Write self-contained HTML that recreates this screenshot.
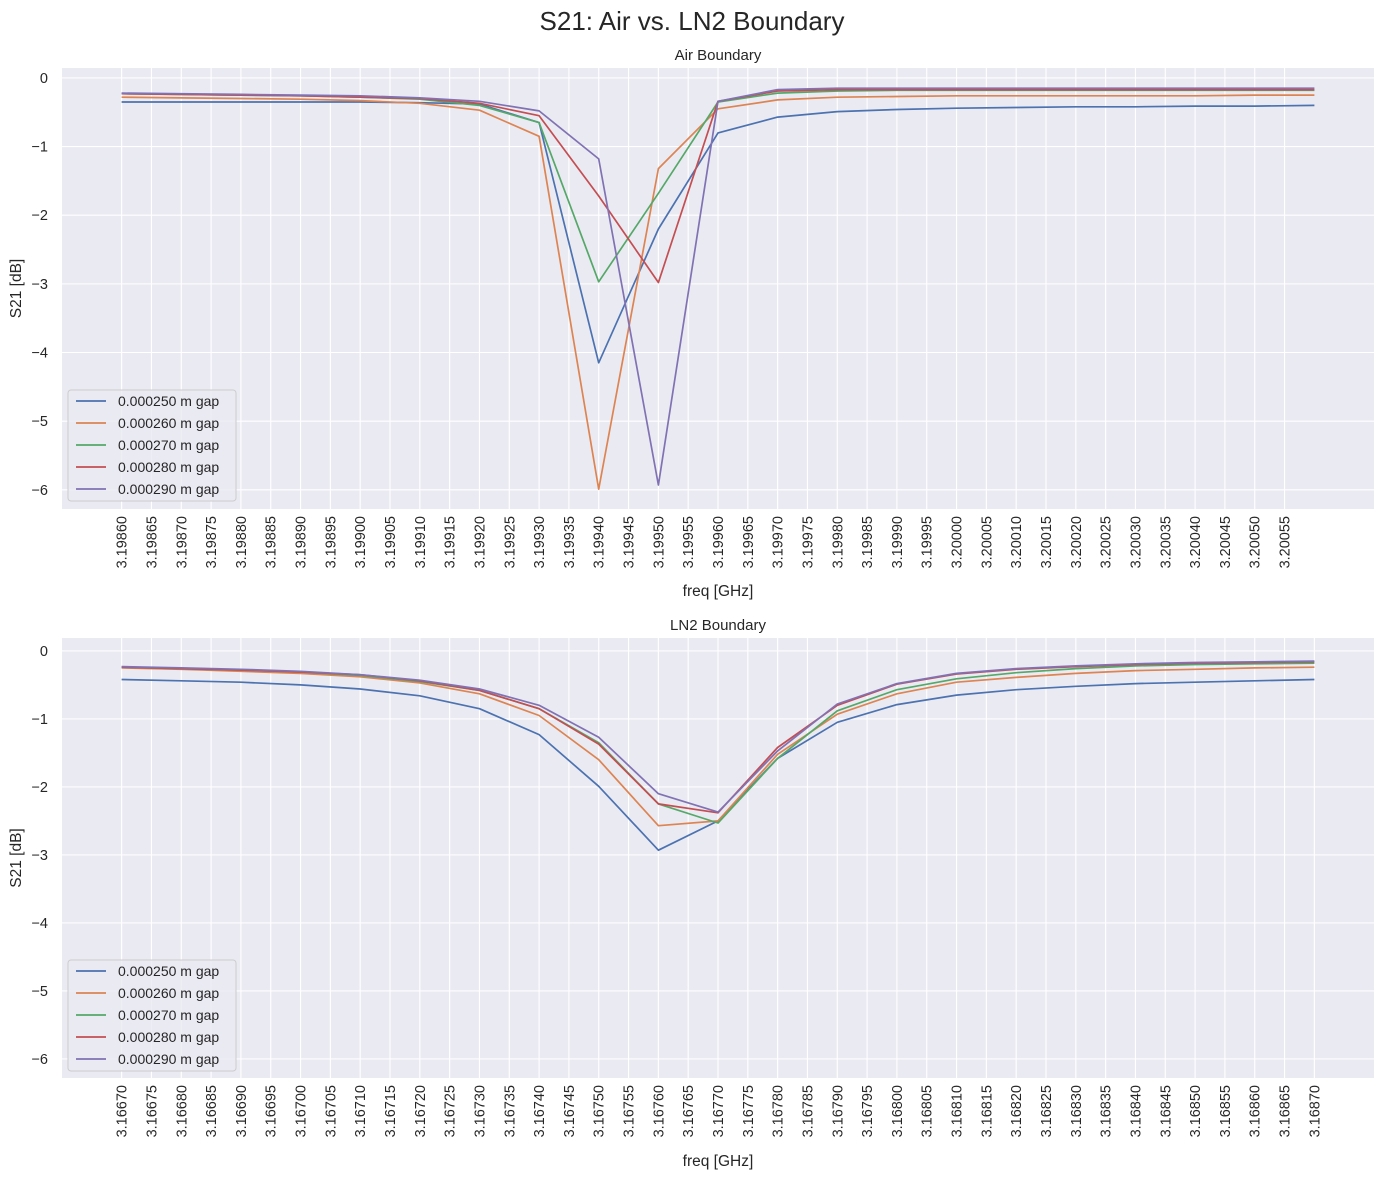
<!DOCTYPE html>
<html><head><meta charset="utf-8"><style>
html,body{margin:0;padding:0;background:#fff;}
svg{display:block;font-family:"Liberation Sans","DejaVu Sans",sans-serif;}
</style></head><body>
<svg id="fig" width="1384" height="1178" viewBox="0 0 1384 1178" xmlns="http://www.w3.org/2000/svg">
<text x="692" y="30" text-anchor="middle" font-size="26" fill="#262626">S21: Air vs. LN2 Boundary</text>
</svg>
<script>
const seriesLabels = ["0.000250 m gap","0.000260 m gap","0.000270 m gap","0.000280 m gap","0.000290 m gap"];
const airFreqStart = 3.1986;
const ln2FreqStart = 3.1667;
const freqStep = 0.0001;
const airBlue   = [-0.35,-0.35,-0.35,-0.35,-0.35,-0.36,-0.38,-0.65,-4.15,-2.2,-0.8,-0.57,-0.49,-0.46,-0.44,-0.43,-0.42,-0.42,-0.41,-0.41,-0.40];
const airOrange = [-0.28,-0.29,-0.30,-0.31,-0.33,-0.37,-0.47,-0.85,-5.99,-1.32,-0.45,-0.32,-0.28,-0.27,-0.26,-0.26,-0.26,-0.26,-0.26,-0.25,-0.25];
const airGreen  = [-0.23,-0.24,-0.25,-0.26,-0.28,-0.31,-0.40,-0.65,-2.97,-1.68,-0.35,-0.22,-0.19,-0.18,-0.18,-0.18,-0.18,-0.18,-0.18,-0.18,-0.18];
const airRed    = [-0.23,-0.24,-0.25,-0.26,-0.28,-0.30,-0.37,-0.55,-1.72,-2.98,-0.34,-0.19,-0.17,-0.17,-0.17,-0.17,-0.17,-0.17,-0.17,-0.17,-0.17];
const airPurple = [-0.22,-0.23,-0.24,-0.25,-0.26,-0.29,-0.34,-0.48,-1.18,-5.93,-0.34,-0.17,-0.15,-0.15,-0.15,-0.15,-0.15,-0.15,-0.15,-0.15,-0.15];
const ln2Blue   = [-0.42,-0.44,-0.46,-0.50,-0.56,-0.66,-0.85,-1.23,-1.99,-2.93,-2.50,-1.58,-1.05,-0.79,-0.65,-0.57,-0.52,-0.48,-0.46,-0.44,-0.42];
const ln2Orange = [-0.25,-0.27,-0.30,-0.33,-0.38,-0.47,-0.63,-0.95,-1.60,-2.57,-2.50,-1.52,-0.93,-0.63,-0.46,-0.39,-0.33,-0.29,-0.27,-0.25,-0.24];
const ln2Green  = [-0.24,-0.26,-0.28,-0.31,-0.36,-0.45,-0.58,-0.85,-1.35,-2.25,-2.53,-1.58,-0.88,-0.57,-0.41,-0.32,-0.26,-0.22,-0.20,-0.19,-0.18];
const ln2Red    = [-0.24,-0.26,-0.28,-0.31,-0.35,-0.44,-0.58,-0.85,-1.37,-2.25,-2.38,-1.42,-0.80,-0.49,-0.34,-0.27,-0.23,-0.20,-0.18,-0.17,-0.16];
const ln2Purple = [-0.23,-0.25,-0.27,-0.30,-0.35,-0.43,-0.56,-0.80,-1.27,-2.10,-2.37,-1.47,-0.78,-0.48,-0.33,-0.26,-0.22,-0.19,-0.17,-0.16,-0.15];
const yTicks = [0,-1,-2,-3,-4,-5,-6];
const colors = ["#4c72b0","#dd8452","#55a868","#c44e52","#8172b3"];

const NS="http://www.w3.org/2000/svg";
const svg=document.getElementById('fig');
function mk(tag,attrs,parent){const e=document.createElementNS(NS,tag);for(const k in attrs)e.setAttribute(k,attrs[k]);(parent||svg).appendChild(e);return e;}

function drawPanel(o){
  const g=mk('g',{});
  
  
  const x=v=>o.left+(v-o.x0)/(o.x1-o.x0)*(o.right-o.left);
  const y=v=>o.top+(o.y1-v)/(o.y1-o.y0)*(o.bottom-o.top);
  const bg=mk('rect',{x:o.left,y:o.top,width:o.right-o.left,height:o.bottom-o.top,fill:'#eaeaf2'},g);
  
  
  const n=Math.round((o.tickEnd-o.x0s)/0.00005);
  for(let i=0;i<=n;i++){
    const v=o.x0s+i*0.00005, px=x(v);
    mk('line',{x1:px,x2:px,y1:o.top,y2:o.bottom,stroke:'#fff','stroke-width':1.1},g);
    const t=mk('text',{transform:`translate(${px+5},${o.bottom+7}) rotate(-90)`,'text-anchor':'end','font-size':14.5,fill:'#262626'},g);
    
    
    t.textContent=v.toFixed(5);
  }
  yTicks.forEach(v=>{
    const py=y(v);
    mk('line',{x1:o.left,x2:o.right,y1:py,y2:py,stroke:'#fff','stroke-width':1.1},g);
    const t=mk('text',{x:o.left-14,y:py+5,'text-anchor':'end','font-size':14.5,fill:'#262626'},g);
    
    
    t.textContent=v===0?'0':'\u2212'+Math.abs(v);
  });
  o.series.forEach((s,si)=>{
    const pts=s.map((v,i)=>x(o.start+i*freqStep).toFixed(1)+','+y(v).toFixed(1)).join(' ');
    const p=mk('polyline',{points:pts,fill:'none',stroke:colors[si],'stroke-width':1.7,'stroke-linejoin':'round'},g);
    
    
  });
  const tt=mk('text',{x:(o.left+o.right)/2,y:o.top-8,'text-anchor':'middle','font-size':15,fill:'#262626'},g);
  
  
  tt.textContent=o.title;
  const xl=mk('text',{x:(o.left+o.right)/2,y:o.xlabelY,'text-anchor':'middle','font-size':15.5,fill:'#262626'},g);
  
  
  xl.textContent='freq [GHz]';
  const cy=(o.top+o.bottom)/2;
  const yl=mk('text',{transform:`translate(21,${cy}) rotate(-90)`,'text-anchor':'middle','font-size':15.5,fill:'#262626'},g);
  
  
  yl.textContent='S21 [dB]';
  const lg=mk('g',{},g);
  
  
  mk('rect',{x:68,y:o.legTop,width:168,height:111,rx:3,fill:'#eaeaf2','fill-opacity':0.8,stroke:'#cccccc'},lg);
  seriesLabels.forEach((l,i)=>{
    const ey=o.legTop+11+i*22;
    const e=mk('g',{},lg);
    
    
    mk('line',{x1:76,x2:106,y1:ey,y2:ey,stroke:colors[i],'stroke-width':1.7},e);
    const t=mk('text',{x:118,y:ey+5,'font-size':14,fill:'#262626'},e);
    t.textContent=l;
  });
}
drawPanel({name:'air-boundary-chart',title:'Air Boundary',left:62,right:1374,top:68,bottom:509,x0:3.1985,x1:3.2007,y0:-6.28,y1:0.145,
  x0s:3.1986,tickEnd:3.20055,start:airFreqStart,series:[airBlue,airOrange,airGreen,airRed,airPurple],xlabelY:596,legTop:390});
drawPanel({name:'ln2-boundary-chart',title:'LN2 Boundary',left:62,right:1374,top:638,bottom:1078,x0:3.1666,x1:3.1688,y0:-6.28,y1:0.19,
  x0s:3.1667,tickEnd:3.1687,start:ln2FreqStart,series:[ln2Blue,ln2Orange,ln2Green,ln2Red,ln2Purple],xlabelY:1166,legTop:960});
</script>
</body></html>
